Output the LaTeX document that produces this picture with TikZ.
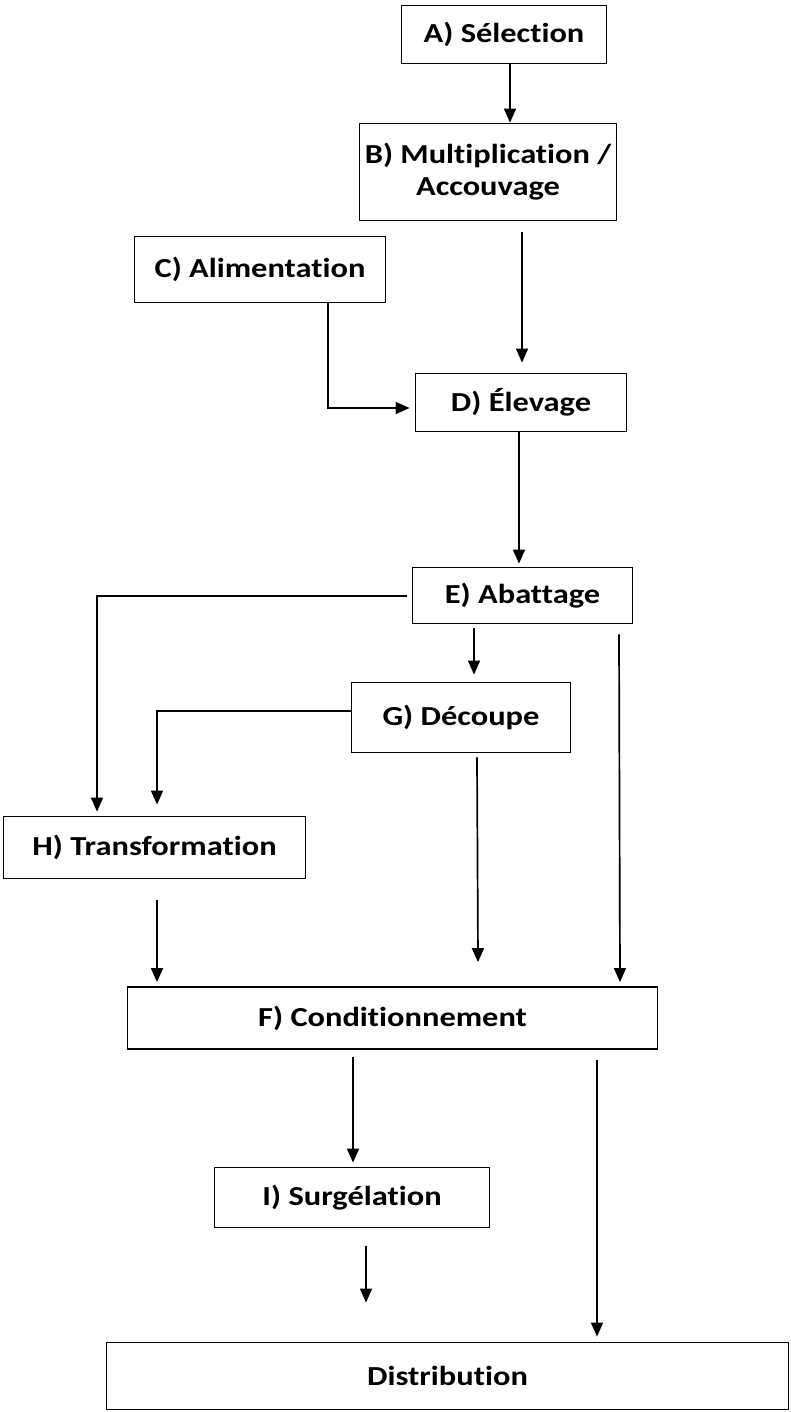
\documentclass[tikz,border=0pt]{standalone}
\usepackage{fontspec}
\setmainfont[Ligatures=NoCommon]{Carlito}
\usetikzlibrary{arrows.meta,calc}
\newcommand{\stretchtxt}[1]{\scalebox{1.18}[1]{#1}}
\tikzset{
  box/.style={draw, line width=1.8pt, rectangle, inner sep=0pt, align=center,
    font=\bfseries\fontsize{27.5}{32}\selectfont},
  arr/.style={line width=1.7pt, -{Triangle[width=12pt,length=14pt]}},
}
\begin{document}
\begin{tikzpicture}[x=1pt,y=-1pt]
\useasboundingbox (0,0) rectangle (791,1412);
\node[box, minimum width=205pt, minimum height=58pt] (A) at (504,34.5) {\stretchtxt{A) Sélection}};
\node[box, minimum width=257pt, minimum height=97pt] (B) at (488,172) {\stretchtxt{B) Multiplication /}\\\stretchtxt{Accouvage}};
\node[box, minimum width=251pt, minimum height=66pt] (C) at (260,269.5) {\stretchtxt{C) Alimentation}};
\node[box, minimum width=211pt, minimum height=58pt] (D) at (521,402.5) {\stretchtxt{D) Élevage}};
\node[box, minimum width=220pt, minimum height=56pt] (E) at (522.5,595.5) {\stretchtxt{E) Abattage}};
\node[box, minimum width=219pt, minimum height=70pt] (G) at (461,717.5) {\stretchtxt{G) Découpe}};
\node[box, minimum width=302pt, minimum height=62pt] (H) at (154.5,847.5) {\stretchtxt{H) Transformation}};
\node[box, minimum width=530pt, minimum height=62pt] (F) at (392.5,1018) {\stretchtxt{F) Conditionnement}};
\node[box, minimum width=275pt, minimum height=60pt] (I) at (352,1197.5) {\stretchtxt{I) Surgélation}};
\node[box, minimum width=682pt, minimum height=67pt] (K) at (447.5,1376) {\stretchtxt{Distribution}};

% A -> B
\draw[arr] (A.south -| 510,0) -- (B.north -| 510,0);
% B -> D
\draw[arr] ($(B.south -| 522,0)+(0,11)$) -- ($(D.north -| 522,0)+(0,-10)$);
% C -> D
\draw[arr] (C.south -| 328,0) |- ($(D.west)+(-5,5.5)$);
% D -> E
\draw[arr] (D.south -| 519,0) -- ($(E.north -| 519,0)+(0,-3)$);
% E -> H
\draw[arr] ($(E.west)+(-5,0.5)$) -| ($(H.north -| 97,0)+(0,-4)$);
% E -> G
\draw[arr] ($(E.south -| 474,0)+(0,4)$) -- ($(G.north -| 474,0)+(0,-7)$);
% G -> H
\draw[arr] ($(G.west)+(0,-6.5)$) -| ($(H.north -| 157,0)+(0,-11)$);
% G -> F
\draw[arr] ($(G.south -| 477,0)+(0,4)$) -- ($(F.north -| 478,0)+(0,-24)$);
% E -> F
\draw[arr] ($(E.south -| 619,0)+(0,10)$) -- ($(F.north -| 620,0)+(0,-4)$);
% H -> F
\draw[arr] ($(H.south -| 157,0)+(0,21)$) -- ($(F.north -| 157,0)+(0,-4)$);
% F -> I
\draw[arr] ($(F.south -| 353,0)+(0,7)$) -- ($(I.north -| 353,0)+(0,-4)$);
% I -> Distribution
\draw[arr] ($(I.south -| 366,0)+(0,18)$) -- ($(K.north -| 366,0)+(0,-39)$);
% F -> Distribution
\draw[arr] ($(F.south -| 597,0)+(0,10)$) -- ($(K.north -| 597,0)+(0,-5)$);
\end{tikzpicture}
\end{document}
